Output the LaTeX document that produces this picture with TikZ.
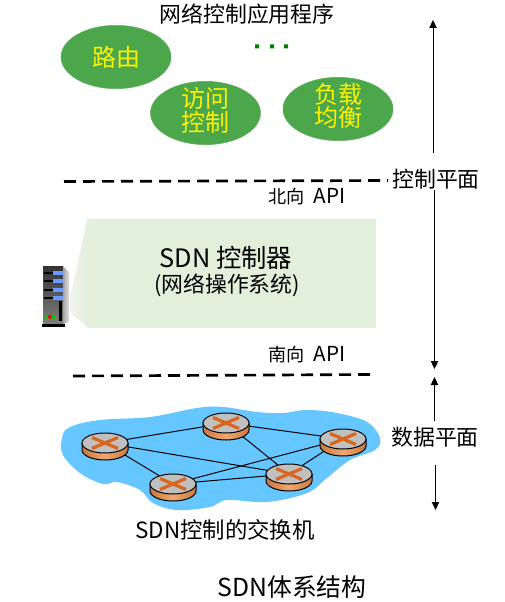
\documentclass[tikz,border=0pt]{standalone}
\usepackage{fontspec}
\setmainfont{Noto Sans CJK SC}
\usetikzlibrary{shapes.geometric,arrows.meta}
\definecolor{appgreen}{HTML}{4CA64C}
\definecolor{appedge}{HTML}{5CB25C}
\definecolor{panelgreen}{HTML}{E2EFDA}
\definecolor{cloudblue}{HTML}{66C6FF}
\definecolor{routerside}{HTML}{F0A870}
\definecolor{routersided}{HTML}{C87840}
\definecolor{routerx}{HTML}{D9661F}
\definecolor{routertop}{HTML}{C0C0C0}
\definecolor{ledblue}{HTML}{6C98FF}
\newcommand{\apitext}{{\fontsize{15.5}{16}\selectfont API}}
\tikzset{
  x=0.75pt,y=-0.75pt,
  lbl/.style={inner sep=0pt,font=\fontsize{16.4}{18}\selectfont,text=black},
  small/.style={lbl,font=\fontsize{13.6}{16}\selectfont},
  app/.style={ellipse,draw=appedge,fill=appgreen,minimum width=82.5pt,minimum height=47.5pt,inner sep=0pt},
  apptext/.style={inner sep=0pt,align=center,text=yellow,font=\fontsize{18}{16.5}\selectfont},
  plane/.style={draw=black,line width=2pt,dash pattern=on 9pt off 5.25pt},
  axis/.style={draw=black,line width=0.75pt,-{Triangle[length=6pt,width=5.5pt]}},
  link/.style={draw=black,line width=0.75pt},
  rnode/.style={ellipse,minimum width=34.5pt,minimum height=15pt,inner sep=0pt},
}
\newcommand{\routerpic}[1]{%
  \begin{scope}[shift={(#1)}]
    \shade[left color=routersided,right color=routersided,middle color=routerside,draw=black,line width=0.75pt] (-23,0) -- (-23,7) arc[start angle=180,end angle=360,x radius=17.25pt,y radius=7.5pt] -- (23,0) -- cycle;
    \path[draw=black,fill=routertop,line width=0.75pt] (0,0) ellipse[x radius=17.25pt,y radius=7.5pt];
    \draw[routerx,line width=2.4pt] (-13,5.5) -- (13,-5.5) (-13,-5.5) -- (13,5.5);
  \end{scope}}
\begin{document}
\begin{tikzpicture}
\useasboundingbox (0,0) rectangle (505,602);
% cloud
\fill[cloudblue] plot[smooth cycle,tension=0.6] coordinates {
  (62,438) (70,427) (100,420) (150,417) (197,408) (223,407) (257,412) (283,413)
  (307,410) (337,413) (367,422) (380,438) (375,450) (350,460) (327,478) (307,493)
  (267,502) (227,500) (210,507) (177,510) (153,503) (140,490) (117,482) (103,484)
  (80,473) (63,455)};
% routers
\node[rnode] (ra) at (105,443) {};
\node[rnode] (rb) at (226,423) {};
\node[rnode] (rc) at (343,439) {};
\node[rnode] (rd) at (289,474) {};
\node[rnode] (re) at (173,484) {};
\draw[link] (ra.center) -- (rb.center);
\draw[link] (rb.center) -- (rc.center);
\draw[link] (rb.center) -- (rd.center);
\draw[link] (rc.center) -- (rd.center);
\draw[link] (ra.center) -- (rd.center);
\draw[link] (ra.center) -- (re.center);
\draw[link] (re.center) -- (rd.center);
\draw[link] (re.center) -- (rc.center);
\routerpic{105,443}
\routerpic{226,423}
\routerpic{343,439}
\routerpic{289,474}
\routerpic{173,484}
% panel
\shade[left color=gray!10,right color=panelgreen] (70,297) -- (88,216) -- (88,328) -- (70,312) -- cycle;
\fill[panelgreen] (88,219) rectangle (376,328);
\node[lbl,font=\fontsize{19}{21}\selectfont] (sdn) at (226,258) {SDN 控制器};
\node[lbl] (os) at (227,285) {(网络操作系统)};
% server
\shade[top color=black!80,bottom color=black!50] (43,266) rectangle (63,324);
\shade[left color=gray!70,right color=gray!25] (63,266) -- (69,272) -- (69,321) -- (63,325) -- cycle;
\fill[black] (42,323.5) rectangle (65,326.5);
\foreach \yy in {273,281,290,298}{
  \fill[black] (44,\yy-1) rectangle (54,\yy+1);
  \fill[ledblue] (53,\yy-2) rectangle (63,\yy+2);
}
\fill[black] (59,301) rectangle (62,321);
\fill[green!80!black] (47,317) circle[radius=1.5pt];
\fill[red] (50,317) circle[radius=1.5pt];
\fill[green!80!black] (53.5,317) circle[radius=1.5pt];
% apps
\node[app] (a1) at (116,57) {};
\node[apptext] at (a1) {路由};
\node[app] (a2) at (205.5,113) {};
\node[apptext] at (205.5,110.5) {访问\\控制};
\node[app] (a3) at (338,109) {};
\node[apptext] at (338,106) {负载\\均衡};
\node[lbl] (title) at (247,14) {网络控制应用程序};
\fill[green!50!black] (255,44.5) rectangle (259,48.5) (270,44.5) rectangle (274,48.5) (284,44.5) rectangle (288,48.5);
% planes
\coordinate (p1l) at (64,181.5); \coordinate (p1r) at (388,180.5);
\coordinate (p2l) at (73,376); \coordinate (p2r) at (372,374.5);
\draw[plane] (p1l) -- (p1r);
\draw[plane] (p2l) -- (p2r);
\node[lbl] (ctl) at (436,179) {控制平面};
\node[lbl] (data) at (435,437) {数据平面};
\node[small] (north) at (307,197) {北向\hspace{7pt}\apitext};
\node[small] (south) at (307,355) {南向\hspace{7pt}\apitext};
\node[lbl,font=\fontsize{16.8}{18}\selectfont] (sw) at (225,530) {SDN控制的交换机};
\node[lbl,font=\fontsize{18.6}{20}\selectfont] (cap) at (292,587) {SDN体系结构};
% axes
\coordinate (u1) at (433,153); \coordinate (u2) at (433,20);
\coordinate (d1) at (434.5,190); \coordinate (d2) at (434.5,369);
\coordinate (v1) at (434.5,421); \coordinate (v2) at (434.5,377);
\coordinate (w1) at (435.5,465); \coordinate (w2) at (435.5,510);
\draw[axis] (u1) -- (u2);
\draw[axis] (d1) -- (d2);
\draw[axis] (v1) -- (v2);
\draw[axis] (w1) -- (w2);
\end{tikzpicture}
\end{document}
